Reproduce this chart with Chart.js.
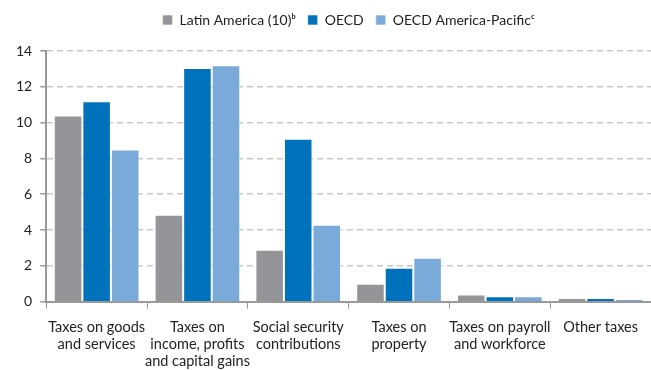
<!DOCTYPE html>
<html>
<head>
<meta charset="utf-8">
<script src="https://cdn.jsdelivr.net/npm/chart.js@4"></script>
<style>
  html, body { margin: 0; padding: 0; background: #fff; }
  #wrap { width: 651px; height: 370px; }
</style>
</head>
<body>
<div id="wrap"><canvas id="taxChart"></canvas></div>
<script>
// categories (x axis)
var categories = [
  ["Taxes on goods", "and services"],
  ["Taxes on", "income, profits", "and capital gains"],
  ["Social security", "contributions"],
  ["Taxes on", "property"],
  ["Taxes on payroll", "and workforce"],
  ["Other taxes"]
];
// series values, % of GDP
var latinAmerica = [10.4, 4.85, 2.9, 1.0, 0.4, 0.2];
var oecd = [11.2, 13.05, 9.1, 1.9, 0.3, 0.2];
var oecdAmPac = [8.5, 13.2, 4.3, 2.45, 0.3, 0.15];
var yTicks = [0, 2, 4, 6, 8, 10, 12, 14];

var fontFam = "Lato, 'Open Sans', sans-serif";

// extra space under the legend
var legendGap = {
  id: "legendGap",
  beforeInit: function(chart) {
    var fit = chart.legend.fit;
    chart.legend.fit = function() {
      fit.bind(chart.legend)();
      this.height += 14;
    };
  }
};

new Chart(document.getElementById("taxChart"), {
  type: "bar",
  data: {
    labels: categories,
    datasets: [
      { label: "Latin America (10)ᵇ", data: latinAmerica, backgroundColor: "#939598" },
      { label: "OECD", data: oecd, backgroundColor: "#0072BC" },
      { label: "OECD America-Pacificᶜ", data: oecdAmPac, backgroundColor: "#7AAADA" }
    ]
  },
  options: {
    responsive: true,
    maintainAspectRatio: false,
    animation: false,
    layout: { padding: { left: 8, right: 0, top: 1, bottom: -10 } },
    datasets: {
      bar: { categoryPercentage: 0.85, barPercentage: 1.0, borderWidth: 1, borderColor: "rgba(255,255,255,0.6)" }
    },
    plugins: {
      legend: {
        position: "top",
        fullSize: false,
        labels: {
          boxWidth: 10, boxHeight: 10, padding: 12,
          color: "#222", font: { family: fontFam, size: 14 }
        }
      },
      tooltip: { enabled: false }
    },
    scales: {
      x: {
        grid: { offset: true, drawOnChartArea: false, drawTicks: true, tickLength: 7, color: "#999" },
        border: { color: "#999", width: 2 },
        ticks: { color: "#222", font: { family: fontFam, size: 14.5, lineHeight: 1.18 }, maxRotation: 0, autoSkip: false, padding: 10 }
      },
      y: {
        min: 0, max: 14,
        afterBuildTicks: function(axis) { axis.ticks = yTicks.map(function(v){ return { value: v }; }); },
        grid: { color: "#c8c8c8", lineWidth: 1.5, tickLength: 6, tickColor: "#999" },
        border: { color: "#999", width: 2, dash: [6, 4] },
        ticks: { color: "#222", font: { family: fontFam, size: 14 }, padding: 8 }
      }
    }
  },
  plugins: [legendGap]
});
</script>
</body>
</html>
